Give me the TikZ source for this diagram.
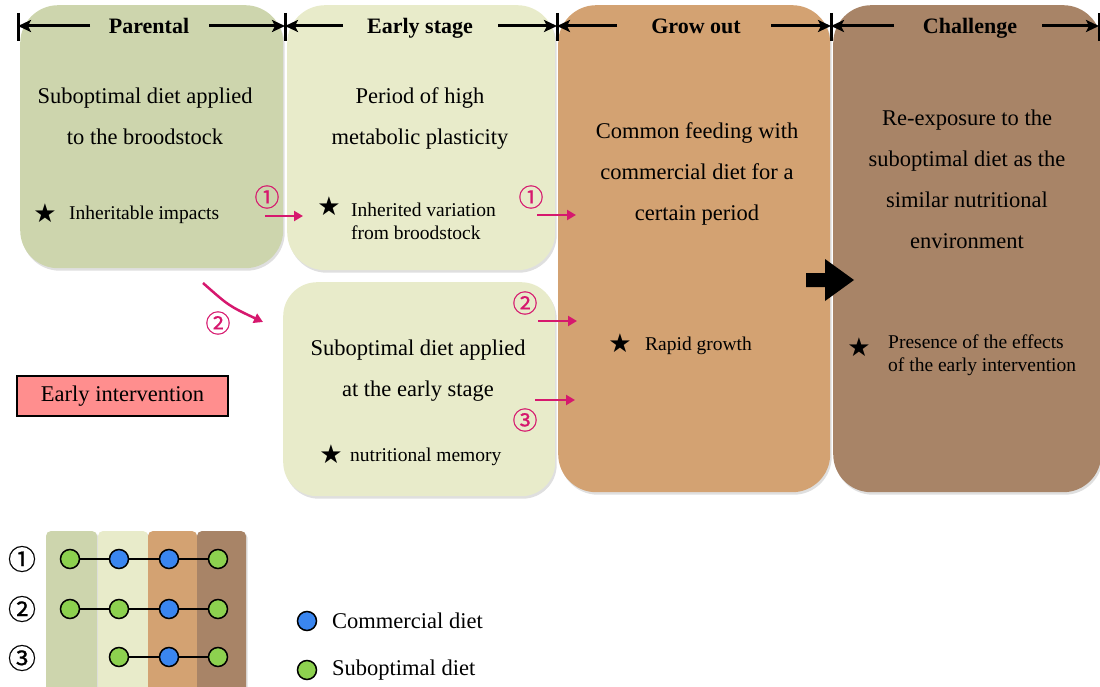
\documentclass[tikz,border=0pt]{standalone}
\usepackage{fontspec}
\setmainfont{Liberation Serif}
\newfontfamily\dejavu{DejaVu Sans}
\newfontfamily\cjkfont[FakeBold=0.6]{Noto Sans CJK JP}
\usetikzlibrary{arrows.meta,shadows}
\definecolor{cpar}{HTML}{CDD5AD}
\definecolor{cearly}{HTML}{E8EBCA}
\definecolor{cgrow}{HTML}{D3A272}
\definecolor{cchal}{HTML}{A88467}
\definecolor{cpink}{HTML}{D6186E}
\definecolor{cint}{HTML}{FF8E8E}
\definecolor{cblue}{HTML}{3A86F0}
\definecolor{cgreen}{HTML}{8DD14F}
\tikzset{
  stagebox/.style={rounded corners=38pt, inner sep=0pt, anchor=north west,
    drop shadow={opacity=0.25,shadow xshift=1.5pt,shadow yshift=-2.5pt}},
  maintext/.style={font=\fontsize{22.5}{41}\selectfont, align=center, inner sep=0pt},
  startext/.style={font=\fontsize{19.5}{23}\selectfont, align=left, anchor=west, inner sep=0pt},
  staricon/.style={font=\dejavu\fontsize{26}{26}\selectfont, inner sep=0pt},
  hdrtext/.style={font=\bfseries\fontsize{22}{22}\selectfont, inner sep=0pt, anchor=base},
  hdrarrow/.style={line width=3pt, -{Stealth[length=13pt,width=12pt,inset=3pt]}},
  hdrbar/.style={line width=3pt},
  pinkarrow/.style={draw=cpink, line width=2.5pt, -{Triangle[length=9pt,width=10pt]}},
  pinknum/.style={font=\cjkfont\fontsize{25}{25}\selectfont, text=cpink, inner sep=0pt},
  legnum/.style={font=\cjkfont\fontsize{28}{28}\selectfont, inner sep=0pt},
  dot/.style={circle, draw=black, line width=1.5pt, minimum size=19pt, inner sep=0pt},
  legtext/.style={font=\fontsize{22.5}{22.5}\selectfont, anchor=west, inner sep=0pt},
  colshadow/.style={drop shadow={opacity=0.25,shadow xshift=1.5pt,shadow yshift=-1.5pt}}
}
\begin{document}
\begin{tikzpicture}[x=1pt,y=-1pt]
\useasboundingbox (0,0) rectangle (1100,687);

% stage boxes
\node[stagebox, fill=cpar, minimum width=263pt, minimum height=263pt] (par) at (20,5) {};
\node[stagebox, fill=cearly, minimum width=268pt, minimum height=265pt] (early) at (287,5) {};
\node[stagebox, fill=cearly, minimum width=272pt, minimum height=214pt, rounded corners=34pt] (earlyb) at (283,282) {};
\node[stagebox, fill=cgrow, minimum width=272pt, minimum height=487pt] (grow) at (558,5) {};
\node[stagebox, fill=cchal, minimum width=268pt, minimum height=487pt] (chal) at (833,5) {};

% header bars
\foreach \x/\n in {18/b0,285/b1,557/b2,831/b3,1099/b4}{
  \coordinate (\n t) at (\x,13);
  \coordinate (\n b) at (\x,41);
  \coordinate (\n) at (\x,26);
  \draw[hdrbar] (\n t) -- (\n b);
}
\node[hdrtext] (hpar) at (149,34) {Parental};
\node[hdrtext] (hear) at (420,34) {Early stage};
\node[hdrtext] (hgro) at (696,34) {Grow out};
\node[hdrtext] (hcha) at (970,34) {Challenge};
\coordinate (a0) at (90,26);  \coordinate (a1) at (209,26);
\coordinate (a2) at (343,26); \coordinate (a3) at (498,26);
\coordinate (a4) at (617,26); \coordinate (a5) at (771,26);
\coordinate (a6) at (894,26); \coordinate (a7) at (1042,26);
\draw[hdrarrow] (a0) -- (b0);
\draw[hdrarrow] (a1) -- (b1);
\draw[hdrarrow] (a2) -- (b1);
\draw[hdrarrow] (a3) -- (b2);
\draw[hdrarrow] (a4) -- (b2);
\draw[hdrarrow] (a5) -- (b3);
\draw[hdrarrow] (a6) -- (b3);
\draw[hdrarrow] (a7) -- (b4);

% main texts
\node[maintext] (tpar) at (145,116) {Suboptimal diet applied\\to the broodstock};
\node[maintext] (tear) at (420,119) {Period of high\\metabolic plasticity};
\node[maintext] (tearb) at (418,371) {Suboptimal diet applied\\at the early stage};
\node[maintext] (tgro) at (697,174) {Common feeding with\\commercial diet for a\\certain period};
\node[maintext] (tcha) at (967,179) {Re-exposure to the\\suboptimal diet as the\\similar nutritional\\environment};

% star items
\node[staricon] (s1) at (45,213) {★};
\node[startext] (st1) at (69,215) {Inheritable impacts};
\node[staricon] (s2) at (329,206) {★};
\node[startext] (st2) at (351,221) {Inherited variation\\from broodstock};
\node[staricon] (s3) at (331,454) {★};
\node[startext] (st3) at (350,457) {nutritional memory};
\node[staricon] (s4) at (620,343) {★};
\node[startext] (st4) at (645,346) {Rapid growth};
\node[staricon] (s5) at (859,347) {★};
\node[startext] (st5) at (888,355) {Presence of the effects\\of the early intervention};

% pink arrows
\coordinate (p1s) at (265,216); \coordinate (p1e) at (303,216);
\coordinate (p2s) at (537,215); \coordinate (p2e) at (576,215);
\coordinate (p3s) at (538,321); \coordinate (p3e) at (577,321);
\coordinate (p4s) at (535,400); \coordinate (p4e) at (575,400);
\coordinate (p5s) at (203,283); \coordinate (p5c) at (229,306); \coordinate (p5e) at (263,322);
\draw[pinkarrow] (p1s) -- (p1e);
\draw[pinkarrow] (p2s) -- (p2e);
\draw[pinkarrow] (p3s) -- (p3e);
\draw[pinkarrow] (p4s) -- (p4e);
\draw[pinkarrow] (p5s) .. controls (p5c) .. (p5e);
\node[pinknum] (n1) at (267,197) {①};
\node[pinknum] (n2) at (531,197) {①};
\node[pinknum] (n3) at (525,303) {②};
\node[pinknum] (n4) at (525,420) {③};
\node[pinknum] (n5) at (218,323) {②};

% big black arrow
\fill (806,273) -- (825,273) -- (825,259) -- (854,280) -- (825,301) -- (825,287) -- (806,287) -- cycle;

% early intervention
\node[draw=black, line width=1.5pt, fill=cint, minimum width=211pt, minimum height=40pt,
  inner sep=0pt, font=\fontsize{22.5}{22.5}\selectfont] (ei) at (122.5,396) {Early intervention};

% legend columns
\fill[cpar, colshadow] (46,687) [rounded corners=5pt] -- (46,531) -- (97,531) [sharp corners] -- (97,687) -- cycle;
\fill[cearly, colshadow] (98,687) [rounded corners=5pt] -- (98,531) -- (148,531) [sharp corners] -- (148,687) -- cycle;
\fill[cgrow, colshadow] (148,687) [rounded corners=5pt] -- (148,531) -- (197,531) [sharp corners] -- (197,687) -- cycle;
\fill[cchal, colshadow] (197,687) [rounded corners=5pt] -- (197,531) -- (246,531) [sharp corners] -- (246,687) -- cycle;

\node[legnum] (l1) at (22,559) {①};
\node[legnum] (l2) at (22,609) {②};
\node[legnum] (l3) at (22,658) {③};

\node[dot, fill=cgreen] (r1a) at (70,559) {};
\node[dot, fill=cblue] (r1b) at (119,559) {};
\node[dot, fill=cblue] (r1c) at (169,559) {};
\node[dot, fill=cgreen] (r1d) at (218,559) {};
\node[dot, fill=cgreen] (r2a) at (70,609) {};
\node[dot, fill=cgreen] (r2b) at (119,609) {};
\node[dot, fill=cblue] (r2c) at (169,609) {};
\node[dot, fill=cgreen] (r2d) at (218,609) {};
\node[dot, fill=cgreen] (r3b) at (119,657) {};
\node[dot, fill=cblue] (r3c) at (169,657) {};
\node[dot, fill=cgreen] (r3d) at (218,657) {};
\draw[line width=1.5pt] (r1a) -- (r1b) -- (r1c) -- (r1d);
\draw[line width=1.5pt] (r2a) -- (r2b) -- (r2c) -- (r2d);
\draw[line width=1.5pt] (r3b) -- (r3c) -- (r3d);

\node[dot, fill=cblue] (kb) at (307,621) {};
\node[legtext] (kbt) at (332,621) {Commercial diet};
\node[dot, fill=cgreen] (kg) at (307,670) {};
\node[legtext] (kgt) at (332,670) {Suboptimal diet};
\end{tikzpicture}
\end{document}
